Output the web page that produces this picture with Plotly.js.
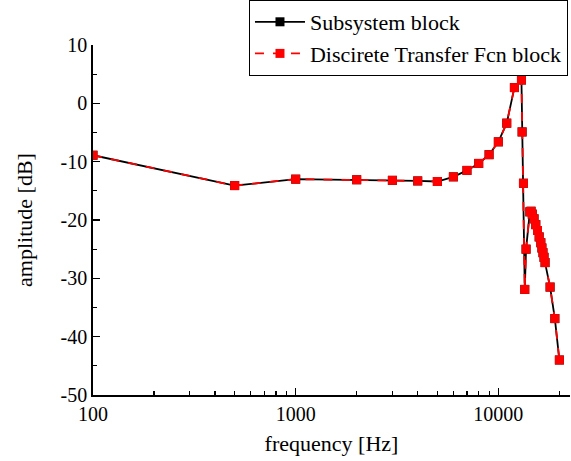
<!DOCTYPE html>
<html>
<head>
<meta charset="utf-8">
<script src="https://cdn.plot.ly/plotly-3.0.1.min.js"></script>
<style>html,body{margin:0;padding:0;background:#fff;}#chart{width:571px;height:461px;}</style>
</head>
<body>
<div id="chart"></div>
<script>
var freq = [100, 500, 1000, 2000, 3000, 4000, 5000, 6000, 7000, 8000, 9000, 10000, 11000, 12000, 13000, 13100, 13300, 13500, 13700,
  14300, 14500, 14700, 15000, 15300, 15600, 15900, 16200, 16400, 16600, 16800, 17000, 18000, 19000, 20000];
var subsystem = [-8.9, -14.1, -13.0, -13.1, -13.2, -13.3, -13.4, -12.6, -11.5, -10.3, -8.8, -6.6, -3.4, 2.7, 4.0, -4.9, -13.7, -31.9, -25.0,
  -18.6, -18.5, -19.0, -19.8, -20.8, -21.8, -22.9, -23.9, -24.8, -25.6, -26.4, -27.3, -31.5, -36.9, -44.0];
var transferFcn = subsystem.slice();
var yTickVals = [10, 0, -10, -20, -30, -40, -50];
var yTickText = ["10", "0", "-10", "-20", "-30", "-40", "-50"];
var xTickVals = [100, 1000, 10000];
var xTickText = ["100", "1000", "10000"];
var xMinor = [200,300,400,500,600,700,800,900,2000,3000,4000,5000,6000,7000,8000,9000,20000];

var font = "Liberation Serif, Times New Roman, serif";
var traces = [
  {x: freq, y: subsystem, name: "Subsystem block", type: "scatter", mode: "lines+markers",
   line: {color: "#000", width: 1.8}, marker: {symbol: "square", size: 9, color: "#000"}},
  {x: freq, y: transferFcn, name: "Discirete Transfer Fcn block", type: "scatter", mode: "lines+markers",
   line: {color: "#ff0000", width: 1.8, dash: "dash"}, marker: {symbol: "square", size: 9, color: "#ff0000"}}
];
var layout = {
  width: 571, height: 461,
  margin: {l: 93, r: 1, t: 44, b: 66},
  paper_bgcolor: "#fff", plot_bgcolor: "#fff",
  font: {family: font, color: "#000", size: 20},
  showlegend: true,
  legend: {x: 0.327, y: 1.1254, xanchor: "left", yanchor: "top", bordercolor: "#000", borderwidth: 1,
    bgcolor: "rgba(255,255,255,0)", font: {family: font, size: 22}, tracegroupgap: 0, itemwidth: 50},
  xaxis: {type: "log", range: [2, 4.3535], showline: true, linecolor: "#000", linewidth: 1.8,
    showgrid: false, zeroline: false, ticks: "inside", ticklen: 7, tickwidth: 1.3, tickcolor: "#000",
    tickmode: "array", tickvals: xTickVals, ticktext: xTickText, tickfont: {family: font, size: 20},
    minor: {tickmode: "array", tickvals: xMinor, ticks: "inside", ticklen: 4, tickwidth: 1.1, tickcolor: "#000", showgrid: false},
    title: {text: "frequency [Hz]", font: {family: font, size: 22}, standoff: 12}},
  yaxis: {range: [-50, 10], showline: true, linecolor: "#000", linewidth: 1.8,
    showgrid: false, zeroline: false, ticks: "inside", ticklen: 7, tickwidth: 1.3, tickcolor: "#000",
    tickmode: "array", tickvals: yTickVals, ticktext: yTickText, tickfont: {family: font, size: 20},
    minor: {dtick: 5, ticks: "inside", ticklen: 4, tickwidth: 1.1, tickcolor: "#000", showgrid: false},
    title: {text: "amplitude [dB]", font: {family: font, size: 22}, standoff: 22}}
};
Plotly.newPlot("chart", traces, layout, {displayModeBar: false, staticPlot: true});
</script>
</body>
</html>
